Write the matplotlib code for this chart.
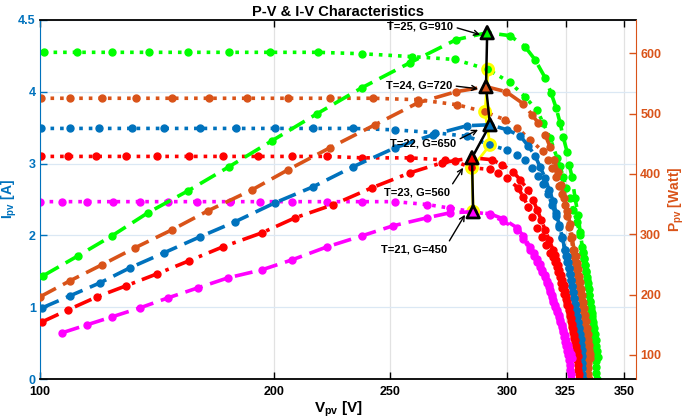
import matplotlib
matplotlib.use('Agg')
import matplotlib.pyplot as plt
from matplotlib import font_manager

# pick a narrow bold sans if there is one
names = set(f.name for f in font_manager.fontManager.ttflist)
fam = 'Liberation Sans Narrow' if 'Liberation Sans Narrow' in names else 'Liberation Sans'
plt.rcParams['font.family'] = [fam, 'DejaVu Sans']
plt.rcParams['font.weight'] = 'bold'
plt.rcParams['mathtext.fontset'] = 'custom'
plt.rcParams['mathtext.rm'] = fam + ':bold'
plt.rcParams['mathtext.bf'] = fam + ':bold'

# ---------------- data ----------------
labels = ['T=25, G=910', 'T=24, G=720', 'T=22, G=650', 'T=23, G=560', 'T=21, G=450']
colors = ['#00ff00', '#d95319', '#0072bd', '#ff0000', '#ff00ff']

# T=25, G=910
green_iv_v = [101.7, 115.8, 130.8, 146.7, 163.4, 180.9, 198.5, 219.0, 237.8, 259.2, 277.7, 291.8,
              301.2, 307.6, 312.8, 315.3, 318.3, 321.3, 322.6, 323.9, 325.2, 326.9, 328.2, 329.9,
              331.2, 332.0, 332.4, 332.9, 333.3, 333.7, 334.2, 334.6, 334.8, 335.0, 335.5, 335.9,
              336.1, 336.3, 336.5, 336.7, 337.0, 337.2, 337.4, 337.6, 337.8, 338.0, 338.1, 338.2]
green_iv_i = [4.55, 4.55, 4.55, 4.55, 4.55, 4.55, 4.55, 4.55, 4.53, 4.49, 4.45, 4.31,
              4.13, 3.93, 3.74, 3.57, 3.36, 3.08, 2.96, 2.82, 2.66, 2.52, 2.36, 2.18,
              2.01, 1.84, 1.75, 1.67, 1.59, 1.51, 1.42, 1.34, 1.25, 1.17, 1.08, 1.00,
              0.92, 0.84, 0.75, 0.67, 0.58, 0.50, 0.41, 0.33, 0.25, 0.17, 0.08, 0.0]
green_pv_v = [101.3, 116.3, 130.8, 146.2, 163.4, 180.9, 199.3, 218.6, 237.8, 258.4, 278.1, 291.4,
              301.2, 307.6, 311.9, 316.2, 318.7, 320.9, 322.6, 323.9, 325.6, 326.5, 327.7, 329.0,
              330.3, 331.2, 332.4, 332.8, 333.3, 333.7, 334.2, 334.6, 335.0, 335.5, 335.9, 336.3,
              336.7, 337.2, 337.6, 337.8, 338.0, 338.5, 338.9]
green_pv_p = [231.0, 264.2, 297.3, 335.5, 372.0, 411.8, 454.9, 499.7, 542.8, 584.3, 622.4, 634.0,
              629.0, 610.8, 589.2, 559.4, 534.5, 509.6, 484.7, 461.5, 436.7, 415.1, 395.2, 360.4,
              332.2, 304.0, 270.8, 260.0, 249.3, 237.0, 224.4, 212.0, 199.5, 187.0, 174.6, 164.6,
              154.7, 144.7, 134.8, 124.8, 114.9, 105.8, 96.7]

# T=24, G=720
orange_iv_v = [100.4, 112.8, 126.5, 141.1, 156.5, 172.3, 188.6, 206.2, 224.1, 242.5, 261.8, 278.5,
               290.5, 299.1, 304.2, 309.8, 315.3, 317.5, 319.2, 320.9, 322.2, 323.5, 324.7, 325.6,
               326.5, 327.3, 328.2, 328.6, 329.0, 329.5, 329.9, 330.3, 330.7, 331.2, 331.6, 332.0,
               332.4, 332.7, 332.9, 333.1, 333.3, 333.5, 333.7, 334.0, 334.2, 334.4, 334.6, 334.7,
               334.8]
orange_iv_i = [3.91, 3.91, 3.91, 3.91, 3.91, 3.91, 3.91, 3.91, 3.91, 3.91, 3.89, 3.82,
               3.72, 3.61, 3.50, 3.33, 3.17, 3.05, 2.94, 2.82, 2.69, 2.57, 2.43, 2.27,
               2.12, 1.97, 1.80, 1.72, 1.63, 1.55, 1.46, 1.38, 1.30, 1.21, 1.13, 1.05,
               0.96, 0.88, 0.80, 0.71, 0.63, 0.55, 0.46, 0.38, 0.29, 0.22, 0.15, 0.07,
               0.0]
orange_pv_v = [100.0, 112.8, 126.5, 140.7, 156.5, 171.9, 190.8, 206.2, 224.1, 243.4, 261.8, 278.1,
               290.9, 299.5, 306.8, 310.6, 313.2, 316.2, 318.3, 320.0, 321.7, 323.0, 324.3, 325.6,
               326.9, 327.7, 328.6, 329.3, 329.9, 330.3, 330.7, 331.2, 331.6, 332.0, 332.4, 332.9,
               333.3, 333.8, 334.2, 334.4, 334.6, 334.8, 335.0, 335.2, 335.4]
orange_pv_p = [196.2, 222.7, 249.3, 277.5, 307.3, 338.8, 373.6, 406.8, 443.3, 481.4, 517.9, 536.2,
               544.5, 536.2, 516.3, 498.0, 484.7, 464.8, 444.9, 423.4, 403.5, 381.9, 360.4, 338.8,
               317.3, 295.7, 274.1, 263.4, 252.6, 241.8, 231.0, 220.2, 209.5, 198.7, 187.9, 177.1,
               166.3, 155.6, 144.8, 134.8, 124.9, 116.6, 108.3, 101.6, 95.0]

# T=22, G=650
blue_iv_v = [100.4, 112.8, 125.3, 139.4, 153.1, 168.5, 183.9, 200.6, 216.9, 234.0, 252.0, 269.1,
             282.8, 292.6, 299.9, 304.2, 307.6, 310.6, 313.2, 315.3, 317.5, 319.2, 320.9, 322.2,
             323.5, 324.7, 325.4, 326.0, 326.5, 326.9, 327.3, 327.7, 328.2, 328.6, 329.0, 329.5,
             329.9, 330.3, 330.5, 330.7, 331.0, 331.2, 331.4, 331.6, 331.8, 332.0, 332.2, 332.4]
blue_iv_i = [3.49, 3.49, 3.49, 3.49, 3.49, 3.49, 3.49, 3.49, 3.49, 3.49, 3.47, 3.43,
             3.38, 3.26, 3.19, 3.12, 3.05, 2.94, 2.83, 2.71, 2.57, 2.43, 2.27, 2.12,
             1.97, 1.80, 1.72, 1.63, 1.55, 1.46, 1.38, 1.30, 1.21, 1.13, 1.05, 0.96,
             0.88, 0.80, 0.71, 0.63, 0.55, 0.46, 0.38, 0.29, 0.22, 0.15, 0.07, 0.0]
blue_pv_v = [100.9, 112.8, 125.7, 138.5, 153.1, 168.5, 183.5, 200.6, 216.9, 234.0, 252.0, 268.2,
             282.8, 292.6, 299.9, 305.5, 308.9, 311.9, 314.0, 316.2, 317.9, 319.6, 320.9, 322.2,
             323.5, 324.7, 325.2, 325.6, 326.3, 326.9, 327.3, 327.7, 328.2, 328.6, 329.0, 329.5,
             329.9, 330.3, 330.7, 331.2, 331.4, 331.6, 331.8, 332.0]
blue_pv_p = [177.9, 197.8, 219.4, 244.3, 269.2, 295.7, 320.6, 352.1, 378.6, 411.8, 443.3, 464.8,
             479.8, 481.4, 473.1, 463.2, 446.6, 430.0, 411.8, 393.5, 373.6, 355.4, 335.5, 315.6,
             295.7, 274.1, 264.2, 254.2, 244.3, 234.3, 224.4, 214.4, 204.5, 194.5, 184.6, 174.6,
             164.7, 154.7, 144.8, 134.8, 125.7, 116.6, 107.5, 98.3]

# T=23, G=560
red_iv_v = [100.4, 112.0, 124.0, 136.8, 150.1, 163.8, 178.3, 193.3, 207.9, 222.9, 237.8, 258.4,
            273.4, 277.7, 284.9, 292.6, 296.1, 299.9, 304.6, 306.8, 308.9, 310.6, 312.8, 314.9,
            316.6, 318.3, 319.4, 320.5, 321.1, 321.7, 322.4, 323.0, 323.6, 324.3, 325.0, 325.6,
            326.3, 326.9, 327.3, 327.7, 328.2, 328.6, 329.0, 329.5, 329.7, 329.9, 330.1, 330.3,
            330.5, 330.7]
red_iv_i = [3.10, 3.10, 3.10, 3.10, 3.10, 3.10, 3.10, 3.10, 3.10, 3.10, 3.08, 3.08,
            3.05, 3.03, 2.94, 2.92, 2.87, 2.80, 2.66, 2.54, 2.40, 2.25, 2.11, 1.98,
            1.87, 1.76, 1.70, 1.63, 1.56, 1.49, 1.42, 1.34, 1.27, 1.19, 1.11, 1.03,
            0.96, 0.88, 0.81, 0.73, 0.65, 0.57, 0.50, 0.42, 0.34, 0.26, 0.20, 0.13,
            0.07, 0.0]
red_pv_v = [100.9, 112.0, 124.4, 136.8, 150.1, 163.8, 178.3, 195.0, 209.2, 225.4, 242.1, 258.4,
            272.1, 284.9, 293.5, 297.8, 302.5, 305.5, 308.9, 311.0, 312.8, 314.5, 316.2, 317.9,
            319.6, 320.3, 320.9, 321.6, 322.2, 322.9, 323.5, 324.1, 324.7, 325.2, 325.6, 326.3,
            326.9, 327.3, 327.7, 328.2, 328.6, 329.1, 329.5, 329.9, 330.3]
red_pv_p = [154.7, 174.6, 196.2, 214.4, 234.3, 255.9, 279.1, 302.3, 327.2, 348.8, 377.0, 401.8,
            418.4, 426.7, 423.4, 415.1, 403.5, 390.2, 373.6, 357.1, 340.5, 323.9, 307.3, 290.7,
            274.1, 265.8, 257.5, 249.3, 241.0, 232.7, 224.4, 215.3, 206.1, 197.0, 187.9, 178.8,
            169.7, 160.6, 151.4, 142.3, 133.2, 124.1, 114.9, 106.6, 98.3]

# T=21, G=450
magenta_iv_v = [100.0, 109.4, 120.1, 131.3, 142.8, 154.8, 167.2, 181.3, 194.2, 207.9, 222.9, 237.8,
                252.0, 265.7, 275.5, 285.4, 292.6, 298.2, 304.2, 306.8, 309.8, 311.3, 312.8, 313.9,
                314.9, 316.0, 317.0, 317.7, 318.3, 319.0, 319.6, 320.5, 321.3, 322.0, 322.6, 323.3,
                323.9, 324.3, 324.7, 325.2, 325.6, 326.1, 326.5, 326.7, 326.9, 327.1, 327.3]
magenta_iv_i = [2.47, 2.47, 2.47, 2.47, 2.47, 2.47, 2.47, 2.47, 2.47, 2.47, 2.47, 2.47,
                2.47, 2.43, 2.38, 2.33, 2.29, 2.20, 2.08, 1.95, 1.80, 1.72, 1.63, 1.56,
                1.49, 1.42, 1.34, 1.28, 1.21, 1.14, 1.07, 1.00, 0.93, 0.86, 0.79, 0.72,
                0.66, 0.59, 0.52, 0.46, 0.39, 0.33, 0.26, 0.20, 0.13, 0.07, 0.0]
magenta_pv_v = [109.4, 120.1, 130.8, 142.8, 154.8, 167.6, 180.5, 195.0, 207.9, 222.9, 237.8, 251.1,
                265.7, 275.5, 285.4, 292.6, 298.2, 304.2, 306.8, 309.8, 311.3, 312.8, 313.9, 314.9,
                316.0, 317.0, 317.7, 318.3, 319.0, 319.6, 320.5, 321.3, 322.0, 322.6, 323.3, 323.9,
                324.6, 325.2, 325.9, 326.5, 327.1, 327.7]
magenta_pv_p = [136.5, 149.8, 163.0, 177.9, 194.5, 211.1, 227.7, 241.0, 257.5, 279.1, 297.3, 313.9,
                327.2, 335.5, 337.2, 333.8, 325.5, 310.6, 297.3, 279.1, 269.2, 259.2, 250.1, 241.0,
                231.9, 222.7, 215.3, 207.8, 199.5, 191.2, 182.9, 174.6, 166.3, 158.0, 149.8, 141.5,
                133.2, 124.9, 116.6, 108.3, 101.7, 95.0]

# maximum power points (same order as labels)
mpp_iv_v = [291.8, 290.5, 292.6, 284.9, 285.4]
mpp_iv_i = [4.31, 3.72, 3.26, 2.94, 2.33]
mpp_pv_v = [291.4, 290.9, 292.6, 284.9, 285.4]
mpp_pv_p = [634.0, 544.5, 481.4, 426.7, 337.2]

x_ticks = [100, 200, 250, 300, 325, 350]
i_ticks = [0, 1, 2, 3, 4, 5]
i_tick_labels = ['0', '1', '2', '3', '4', '4.5']
p_ticks = [100, 200, 300, 400, 500, 600]

iv_v = [green_iv_v, orange_iv_v, blue_iv_v, red_iv_v, magenta_iv_v]
iv_i = [green_iv_i, orange_iv_i, blue_iv_i, red_iv_i, magenta_iv_i]
pv_v = [green_pv_v, orange_pv_v, blue_pv_v, red_pv_v, magenta_pv_v]
pv_p = [green_pv_p, orange_pv_p, blue_pv_p, red_pv_p, magenta_pv_p]

# ---------------- layout ----------------
lcol = '#0072bd'
rcol = '#d95319'
pv_dash = [(0, (5, 2.2)), (0, (5, 2.2)), (0, (5, 2.2)), (0, (5, 2, 1, 2)), (0, (5, 2.2))]

# label placement (right-axis data units): text right end, arrow tip
txt_v = [276.8, 276.4, 278.1, 275.5, 274.2]
txt_p = [643.9, 546.1, 449.9, 368.7, 274.1]
tip_v = [288.4, 287.5, 287.5, 281.1, 281.9]
tip_p = [630.7, 541.1, 473.1, 410.1, 332.2]
relpos = [(1, 0.5), (1, 0.5), (1, 0.8), (1, 1.0), (1, 1.0)]

fig = plt.figure(figsize=(6.85, 4.19), dpi=100)
ax = fig.add_axes([40/685, 1-379/419, 596/685, 359/419])
ax2 = ax.twinx()

for k in range(5):
    ax.plot(iv_v[k], iv_i[k], linestyle=':', lw=2.6, marker='o', ms=5, color=colors[k])
    ax2.plot(pv_v[k], pv_p[k], linestyle=pv_dash[k], lw=2.6, marker='o', ms=5, color=colors[k])

# MPP tracks
ax.plot(mpp_iv_v, mpp_iv_i, color='yellow', lw=2, zorder=4)
ax.scatter(mpp_iv_v, mpp_iv_i, s=60, c=colors, edgecolors='yellow', linewidths=2.2, zorder=5)
ax2.plot(mpp_pv_v, mpp_pv_p, color='black', lw=1.8, zorder=5)
ax2.scatter(mpp_pv_v, mpp_pv_p, s=80, marker='^', c=colors, edgecolors='black', linewidths=2, zorder=6)

for k in range(5):
    ax2.annotate(labels[k], xy=(tip_v[k], tip_p[k]), xytext=(txt_v[k], txt_p[k]),
                 ha='right', va='center', fontsize=8, fontweight='bold', zorder=7,
                 arrowprops=dict(arrowstyle='->', color='black', lw=1, shrinkA=1, shrinkB=0,
                                 relpos=relpos[k], mutation_scale=9))

ax.set_xlim(100, 355.1)
ax.set_ylim(0, 5)
ax2.set_ylim(60, 655)
ax.set_xticks(x_ticks)
ax.set_xticklabels([str(t) for t in x_ticks])
ax.set_yticks(i_ticks)
ax.set_yticklabels(i_tick_labels)
ax2.set_yticks(p_ticks)

ax.grid(axis='x', color='#e2e2e2', lw=0.9)
ax.grid(axis='y', color='#dbe8f4', lw=0.9)
ax.set_axisbelow(True)

ax.tick_params(axis='x', direction='in', top=True, length=5, width=1, colors='black',
               labelsize=9, pad=5)
ax.tick_params(axis='y', direction='in', length=5, width=1, colors=lcol, labelsize=9, pad=3)
ax2.tick_params(axis='y', direction='in', length=5, width=1, colors=rcol, labelsize=9, pad=3)
for lab in ax.get_xticklabels() + ax.get_yticklabels() + ax2.get_yticklabels():
    lab.set_fontweight('bold')

ax.spines['left'].set_color(lcol)
ax.spines['right'].set_visible(False)
ax2.spines['left'].set_visible(False)
ax2.spines['right'].set_color(rcol)
for sp in ['top', 'bottom']:
    ax.spines[sp].set_color('black')
    ax.spines[sp].set_linewidth(1.3)
    ax2.spines[sp].set_visible(False)

ax.set_ylabel(r'I$_{\mathbf{pv}}$ [A]', color=lcol, fontsize=10, fontweight='bold')
ax2.set_ylabel(r'P$_{\mathbf{pv}}$ [Watt]', color=rcol, fontsize=10, fontweight='bold')
ax.yaxis.set_label_coords(-0.036, 0.5)
ax2.yaxis.set_label_coords(1.052, 0.5)
ax.set_xlabel(r'V$_{\mathbf{pv}}$ [V]', fontsize=11, fontweight='bold', labelpad=1)
ax.set_title('P-V & I-V Characteristics', fontsize=10.5, fontweight='bold', pad=3)

fig.savefig('out.png', dpi=100)
